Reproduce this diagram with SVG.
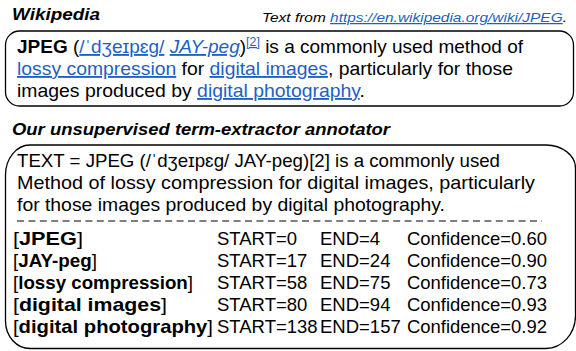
<svg xmlns="http://www.w3.org/2000/svg" width="576" height="351" viewBox="0 0 576 351">
<style>
text{font-family:"Liberation Sans",Arial,sans-serif;fill:#000;}
.t{font-size:18.5px;}
.h{font-size:17px;font-weight:bold;font-style:italic;}
.lk{fill:#1f5fc4;text-decoration:underline;}
.b{font-weight:bold;}
.box{fill:#fff;stroke:#000;stroke-width:1.3;}
</style>
<rect width="576" height="351" fill="#fff"/>
<g id="wiki-header">
<text class="h" x="12" y="20" textLength="88" lengthAdjust="spacingAndGlyphs">Wikipedia</text>
<text x="567" y="22" text-anchor="end" font-size="12.5" font-style="italic" textLength="305" lengthAdjust="spacingAndGlyphs">Text from <tspan class="lk">https://en.wikipedia.org/wiki/JPEG</tspan>.</text>
</g>
<g id="wiki-box">
<rect class="box" x="5.5" y="31" width="568" height="75" rx="14" ry="14"/>
<text class="t" x="17" y="53" textLength="506" lengthAdjust="spacingAndGlyphs"><tspan class="b">JPEG</tspan> (<tspan class="lk">/ˈdʒeɪpɛɡ/</tspan> <tspan class="lk" font-style="italic">JAY-peg</tspan>)<tspan class="lk" font-size="12" dy="-7">[2]</tspan><tspan dy="7"> is a commonly used method of</tspan></text>
<text class="t" x="17" y="75" textLength="496" lengthAdjust="spacingAndGlyphs"><tspan class="lk">lossy compression</tspan> for <tspan class="lk">digital images</tspan>, particularly for those</text>
<text class="t" x="17" y="97" textLength="348" lengthAdjust="spacingAndGlyphs">images produced by <tspan class="lk">digital photography</tspan>.</text>
</g>
<g id="annotator-header">
<text class="h" x="12" y="135" textLength="378" lengthAdjust="spacingAndGlyphs">Our unsupervised term-extractor annotator</text>
</g>
<g id="annotator-box">
<path class="box" d="M30,145 L546,145 A30,23 0 0 1 575.5,168 L575.5,316 A30,33 0 0 1 546,348.5 L30,348.5 A24.5,27.5 0 0 1 5.5,321 L5.5,175 A24.5,30 0 0 1 30,145 Z"/>
<text class="t" x="17" y="167" textLength="483" lengthAdjust="spacingAndGlyphs">TEXT = JPEG (/ˈdʒeɪpɛɡ/ JAY-peg)[2] is a commonly used</text>
<text class="t" x="17" y="189" textLength="518" lengthAdjust="spacingAndGlyphs">Method of lossy compression for digital images, particularly</text>
<text class="t" x="17" y="211" textLength="428" lengthAdjust="spacingAndGlyphs">for those images produced by digital photography.</text>
<line x1="17" y1="221" x2="542" y2="221" stroke="#000" stroke-width="1.2" stroke-dasharray="7,4.4"/>
<g class="t">
<text class="t" x="13" y="245" textLength="70" lengthAdjust="spacingAndGlyphs">[<tspan class="b">JPEG</tspan>]</text>
<text class="t" x="13" y="267" textLength="84" lengthAdjust="spacingAndGlyphs">[<tspan class="b">JAY-peg</tspan>]</text>
<text class="t" x="13" y="289" textLength="180" lengthAdjust="spacingAndGlyphs">[<tspan class="b">lossy compression</tspan>]</text>
<text class="t" x="13" y="311" textLength="154" lengthAdjust="spacingAndGlyphs">[<tspan class="b">digital images</tspan>]</text>
<text class="t" x="13" y="333" textLength="200" lengthAdjust="spacingAndGlyphs">[<tspan class="b">digital photography</tspan>]</text>
<text class="t" x="217" y="245">START=0</text>
<text class="t" x="217" y="267">START=17</text>
<text class="t" x="217" y="289">START=58</text>
<text class="t" x="217" y="311">START=80</text>
<text class="t" x="217" y="333">START=138</text>
<text class="t" x="320" y="245">END=4</text>
<text class="t" x="320" y="267">END=24</text>
<text class="t" x="320" y="289">END=75</text>
<text class="t" x="320" y="311">END=94</text>
<text class="t" x="320" y="333">END=157</text>
<text class="t" x="407" y="245" textLength="140" lengthAdjust="spacingAndGlyphs">Confidence=0.60</text>
<text class="t" x="407" y="267" textLength="140" lengthAdjust="spacingAndGlyphs">Confidence=0.90</text>
<text class="t" x="407" y="289" textLength="140" lengthAdjust="spacingAndGlyphs">Confidence=0.73</text>
<text class="t" x="407" y="311" textLength="140" lengthAdjust="spacingAndGlyphs">Confidence=0.93</text>
<text class="t" x="407" y="333" textLength="140" lengthAdjust="spacingAndGlyphs">Confidence=0.92</text>
</g>
</g>
</svg>
